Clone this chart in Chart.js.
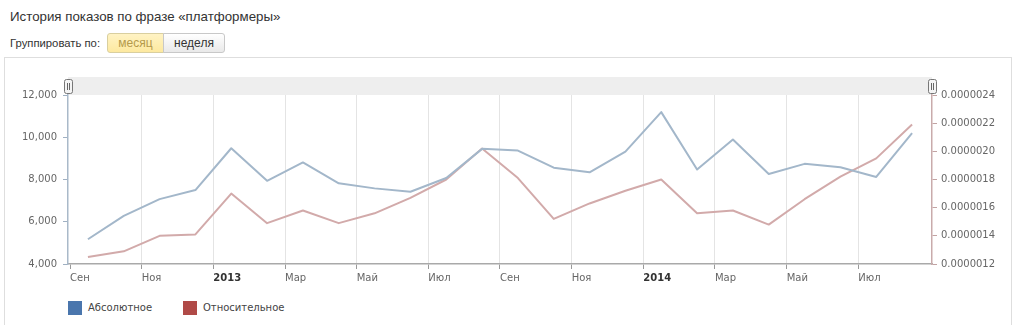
<!DOCTYPE html>
<html><head><meta charset="utf-8">
<script src="https://cdn.jsdelivr.net/npm/chart.js@4"></script>
<style>
html,body{margin:0;padding:0;background:#fff;width:1024px;height:325px;overflow:hidden;position:relative;font-family:"Liberation Sans",Arial,sans-serif;}
#title{position:absolute;left:10px;top:9px;font-size:13.3px;color:#333;white-space:nowrap;}
#group{position:absolute;left:10px;top:37px;font-size:11.3px;color:#333;white-space:nowrap;}
.btn{position:absolute;top:33px;height:20px;line-height:18px;font-size:12px;text-align:center;box-sizing:border-box;}
#b1{left:107px;width:57px;background:linear-gradient(#fff3c4,#fde9a0);border:1px solid #d9cf9f;border-radius:3px 0 0 3px;color:#b59a4a;}
#b2{left:163px;width:62px;background:linear-gradient(#ffffff,#e9e9e9);border:1px solid #c8c8c8;border-radius:0 3px 3px 0;color:#333;}
#box{position:absolute;left:4px;top:57px;width:1008px;height:300px;border:1px solid #dedede;box-sizing:border-box;}
#legend{position:absolute;left:68px;top:301px;font-family:"DejaVu Sans",sans-serif;font-size:10px;color:#444;white-space:nowrap;}
.li{position:absolute;top:0;height:14px;line-height:14px;}
.sw{display:inline-block;width:14px;height:14px;vertical-align:top;margin-right:6px;}
canvas{position:absolute;left:0;top:0;}
</style></head>
<body>
<div id="title">История показов по фразе «платформеры»</div>
<div id="group">Группировать по:</div>
<div class="btn" id="b1">месяц</div>
<div class="btn" id="b2">неделя</div>
<div id="box"></div>
<div id="legend">
  <div class="li" style="left:0"><span class="sw" style="background:#4a76ad"></span>Абсолютное</div>
  <div class="li" style="left:115px"><span class="sw" style="background:#b04a47"></span>Относительное</div>
</div>
<canvas id="c" width="1024" height="325"></canvas>
<script>
// months Sep 2012 .. Aug 2014
const months = ['2012-09','2012-10','2012-11','2012-12','2013-01','2013-02','2013-03','2013-04','2013-05','2013-06','2013-07','2013-08',
                '2013-09','2013-10','2013-11','2013-12','2014-01','2014-02','2014-03','2014-04','2014-05','2014-06','2014-07','2014-08'];
const absolute = [5170,6280,7070,7500,9480,7940,8810,7820,7580,7420,8070,9450,9370,8560,8340,9320,11190,8470,9890,8260,8740,8580,8120,10200];
const relative = [0.00000125,0.00000129,0.00000140,0.00000141,0.00000170,0.00000149,0.00000158,0.00000149,0.00000156,0.00000167,0.00000180,0.00000202,
                  0.00000181,0.00000152,0.00000163,0.00000172,0.00000180,0.00000156,0.00000158,0.00000148,0.00000166,0.00000182,0.00000195,0.00000219];
const xTickLabels = ['Сен','Ноя','2013','Мар','Май','Июл','Сен','Ноя','2014','Мар','Май','Июл'];
const xTickMonths = [0,2,4,6,8,10,12,14,16,18,20,22];
const leftTicks = [4000,6000,8000,10000,12000];
const rightTicks = [0.0000012,0.0000014,0.0000016,0.0000018,0.0000020,0.0000022,0.0000024];

const pts = arr => arr.map((v,i)=>({x:i+0.5,y:v}));
const labelFont = {family:'"DejaVu Sans", Verdana, sans-serif', size:10};
const isYear = c => { if (!c || !c.tick) return false; const i = xTickMonths.indexOf(c.tick.value); return i>=0 && /^\d+$/.test(xTickLabels[i]); };

const band = {
  id:'band',
  beforeDraw(chart){
    const {ctx, chartArea:a} = chart;
    ctx.save();
    ctx.fillStyle = '#eeeeee';
    ctx.fillRect(a.left, a.top-18, a.right-a.left, 18);
    const handle = x => {
      const w=8,h=14,y=a.top-16;
      ctx.beginPath();
      ctx.roundRect(x-w/2+0.5, y+0.5, w, h, 2);
      ctx.fillStyle='#f4f4f4'; ctx.fill();
      ctx.strokeStyle='#777'; ctx.lineWidth=1; ctx.stroke();
      ctx.beginPath();
      ctx.moveTo(x-0.5, y+4); ctx.lineTo(x-0.5, y+h-3);
      ctx.moveTo(x+1.5, y+4); ctx.lineTo(x+1.5, y+h-3);
      ctx.strokeStyle='#666'; ctx.stroke();
    };
    handle(a.left);
    handle(a.right);
    ctx.restore();
  }
};

new Chart(document.getElementById('c'), {
  type:'line',
  data:{datasets:[
    {label:'Абсолютное', data:pts(absolute), yAxisID:'y', borderColor:'#a3b7ca', borderWidth:2, pointRadius:0, tension:0, borderJoinStyle:'round'},
    {label:'Относительное', data:pts(relative), yAxisID:'y1', borderColor:'#d2aaaa', borderWidth:2, pointRadius:0, tension:0, borderJoinStyle:'round'}
  ]},
  options:{
    responsive:false, animation:false, devicePixelRatio:1,
    layout:{padding:{top:95,left:0,right:0,bottom:0}},
    plugins:{legend:{display:false}, tooltip:{enabled:false}},
    scales:{
      x:{type:'linear', min:-0.056, max:24.056,
        afterBuildTicks(s){ s.ticks = xTickMonths.map(v=>({value:v})); },
        afterFit(s){ s.height = 61; },
        border:{display:true, color:'#a9a9a9', width:1.5},
        grid:{display:true, drawOnChartArea:true, drawTicks:true, tickLength:5,
              color:c=> (c && c.tick && c.tick.value===0) ? 'rgba(0,0,0,0)' : '#e4e4e4', tickColor:'#9a9a9a', lineWidth:1},
        ticks:{align:'start', padding:3, autoSkip:false, maxRotation:0,
          callback:(v)=>{ const i = xTickMonths.indexOf(v); return i<0?'':xTickLabels[i]; },
          font:c=> Object.assign({}, labelFont, {weight: isYear(c)?'bold':'normal'}),
          color:c=> isYear(c) ? '#333' : '#666'
        }
      },
      y:{type:'linear', position:'left', min:4000, max:12000,
        afterBuildTicks(s){ s.ticks = leftTicks.map(v=>({value:v})); },
        afterFit(s){ s.width = 68; },
        border:{display:true, color:'#a9b9c9', width:1.5},
        grid:{drawOnChartArea:false, drawTicks:true, tickLength:5, tickColor:'#9fb0c2', color:'#9fb0c2'},
        ticks:{padding:6, color:'#666', font:labelFont, callback:v=>v.toLocaleString('en-US')}
      },
      y1:{type:'linear', position:'right', min:0.0000012, max:0.0000024,
        afterBuildTicks(s){ s.ticks = rightTicks.map(v=>({value:v})); },
        afterFit(s){ s.width = 92; },
        border:{display:true, color:'#c9abab', width:1.5},
        grid:{drawOnChartArea:false, drawTicks:true, tickLength:5, tickColor:'#c2a3a3', color:'#c2a3a3'},
        ticks:{padding:4, color:'#666', font:labelFont, callback:v=>v.toFixed(7)}
      }
    }
  },
  plugins:[band]
});
</script>
</body></html>
